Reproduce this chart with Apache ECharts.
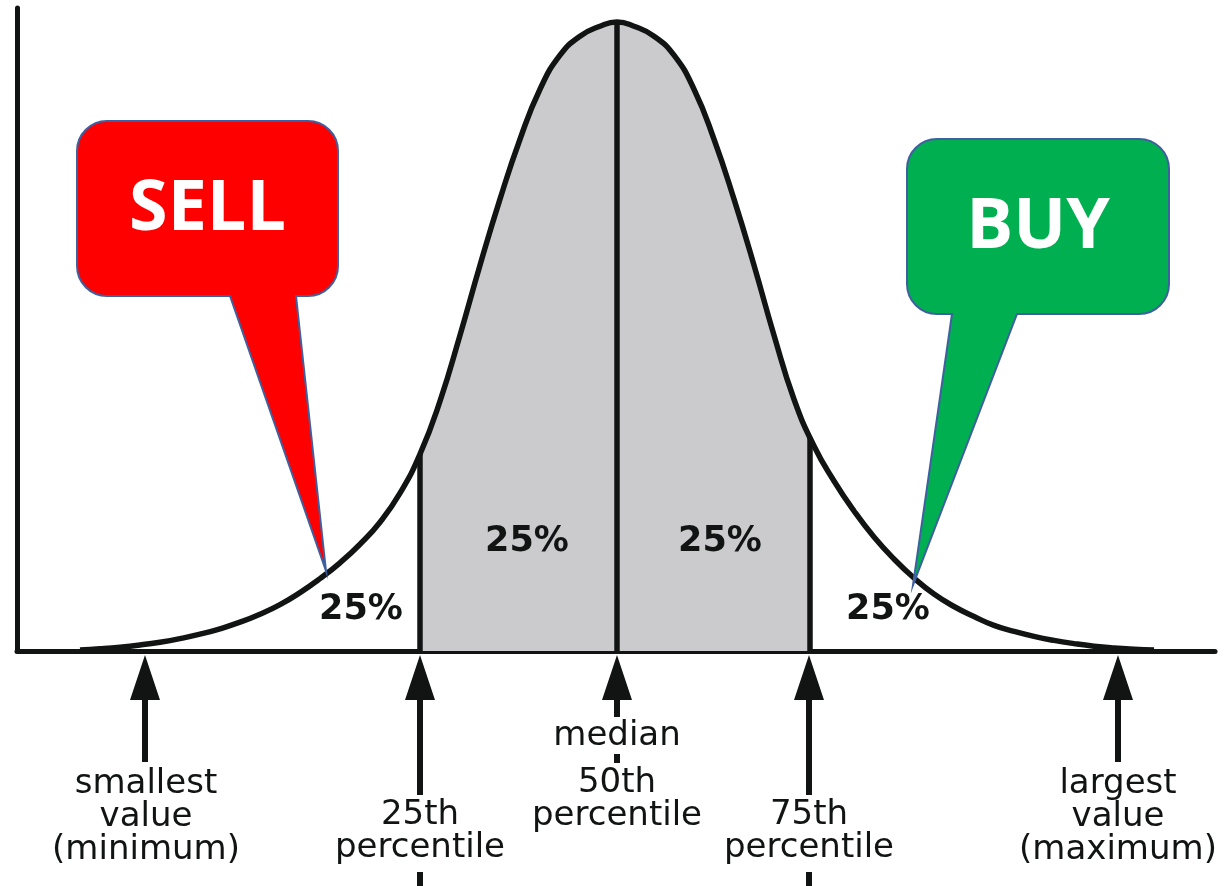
<!DOCTYPE html>
<html><head><meta charset="utf-8">
<script src="https://cdn.jsdelivr.net/npm/echarts@6/dist/echarts.min.js"></script>
<style>html,body{margin:0;padding:0;background:#fff}#c{width:1225px;height:886px}</style>
</head><body><div id="c"></div>
<script>
// Bell curve (x = horizontal position, y = height above the baseline)
const curveX = [80,100,120,140,160,180,200,220,240,260,280,300,320,340,360,380,400,420,440,460,480,500,520,540,560,580,600,617,
                634,654,674,694,714,734,754,774,794,814,834,854,874,894,914,934,954,974,994,1014,1034,1054,1074,1094,1114,1134,1154];
const curveY = [1.0,2.2,3.8,6.0,8.8,12.4,16.8,22.2,28.8,36.8,46.4,58.4,72.4,88.2,106.8,128.8,157.8,196.8,249.8,315.8,385.8,451.8,511.8,561.8,595.8,614.8,624.8,629,
                624.8,614.8,595.8,561.8,511.8,451.8,385.8,315.8,251.8,205,170,140,114,92,73,57,44.5,34.5,25.6,19.6,14.6,10.6,7.4,4.8,3.0,1.8,1.0];

// Quartile dividers (25th, median, 75th)
const quartileX = [420, 617, 810];
const quartileTop = [196.8, 629, 214];

// Share labels inside the curve
const pctText = ['25%', '25%', '25%', '25%'];
const pctX = [361, 527, 720, 888];
const pctY = [41, 109, 109, 41];

// Arrows under the axis
const arrowX = [145, 420, 617, 809, 1118];
const arrowTip = [-4, -4, -4, -4, -4];
const arrowEnd = [-111, -144, -66, -144, -111];
const stubX = [617, 420, 809];
const stubFrom = [-103, -221, -221];
const stubTo = [-112, -235, -235];

// Axis annotations
const labelText = ['smallest\nvalue\n(minimum)', '25th\npercentile', 'median', '50th\npercentile', '75th\npercentile', 'largest\nvalue\n(maximum)'];
const labelX = [146, 420, 617, 617, 809, 1118];
const labelY = [-166, -181, -85, -149, -181, -166];

// Callouts
const calloutText = ['SELL', 'BUY'];
const calloutColor = ['#ff0000', '#00b050'];
const calloutLeft = [77, 907];
const calloutRight = [338, 1169];
const calloutTop = [530, 512];
const calloutBottom = [355, 337];
const tailLeft = [230, 952];
const tailRight = [296, 1017];
const tipX = [326, 913];
const tipY = [80, 66];

const INK = '#121414';
const SMOOTH = 0.5;
const chart = echarts.init(document.getElementById('c'));
const curveData = curveX.map((x, i) => [x, curveY[i]]);
const shadeData = [[quartileX[0], quartileTop[0]]]
  .concat(curveData.filter(d => d[0] > quartileX[0] && d[0] < quartileX[2]))
  .concat([[quartileX[2], quartileTop[2]]]);

function calloutPath(x0, y0, x1, y1, tl, tr, tx, ty, r) {
  const k = 0.5523 * r;
  return 'M' + (x0 + r) + ' ' + y0 +
    ' L' + (x1 - r) + ' ' + y0 +
    ' C' + (x1 - r + k) + ' ' + y0 + ' ' + x1 + ' ' + (y0 + r - k) + ' ' + x1 + ' ' + (y0 + r) +
    ' L' + x1 + ' ' + (y1 - r) +
    ' C' + x1 + ' ' + (y1 - r + k) + ' ' + (x1 - r + k) + ' ' + y1 + ' ' + (x1 - r) + ' ' + y1 +
    ' L' + tr + ' ' + y1 + ' L' + tx + ' ' + ty + ' L' + tl + ' ' + y1 +
    ' L' + (x0 + r) + ' ' + y1 +
    ' C' + (x0 + r - k) + ' ' + y1 + ' ' + x0 + ' ' + (y1 - r + k) + ' ' + x0 + ' ' + (y1 - r) +
    ' L' + x0 + ' ' + (y0 + r) +
    ' C' + x0 + ' ' + (y0 + r - k) + ' ' + (x0 + r - k) + ' ' + y0 + ' ' + (x0 + r) + ' ' + y0 + ' Z';
}

const axisCommon = {
  axisLine: { show: true, onZero: false, lineStyle: { color: INK, width: 5 } },
  axisTick: { show: false }, axisLabel: { show: false }, splitLine: { show: false }
};

chart.setOption({
  animation: false,
  grid: { left: 17, right: 10, top: 8, bottom: 235 },
  xAxis: Object.assign({ type: 'value', min: 17, max: 1215 }, axisCommon),
  yAxis: Object.assign({ type: 'value', min: 0, max: 643 }, axisCommon),
  series: [
    { type: 'line', data: shadeData, smooth: SMOOTH, symbol: 'none', lineStyle: { width: 0 },
      areaStyle: { color: '#cbcbcd', opacity: 1 }, z: 1, silent: true },
    { type: 'custom', z: 2, silent: true,
      data: quartileX.map((x, i) => [x, quartileTop[i]]),
      renderItem: (p, api) => {
        const b = api.coord([api.value(0), 0]);
        const t = api.coord([api.value(0), api.value(1)]);
        return { type: 'line', shape: { x1: b[0], y1: b[1], x2: t[0], y2: t[1] },
          style: { stroke: INK, lineWidth: 5.5 } };
      } },
    { type: 'line', data: curveData, smooth: SMOOTH, symbol: 'none',
      lineStyle: { color: INK, width: 5.5 }, z: 3, silent: true },
    { type: 'custom', z: 3, silent: true,
      data: arrowX.map((x, i) => [x, arrowTip[i], arrowEnd[i]]),
      renderItem: (p, api) => {
        const tip = api.coord([api.value(0), api.value(1)]);
        const end = api.coord([api.value(0), api.value(2)]);
        const hw = 15, hh = 45;
        return { type: 'group', children: [
          { type: 'polygon', shape: { points: [[tip[0], tip[1]], [tip[0] - hw, tip[1] + hh], [tip[0] + hw, tip[1] + hh]] },
            style: { fill: INK } },
          { type: 'rect', shape: { x: tip[0] - 3, y: tip[1] + hh - 2, width: 6, height: end[1] - tip[1] - hh + 2 },
            style: { fill: INK } }
        ] };
      } },
    { type: 'custom', z: 3, silent: true,
      data: stubX.map((x, i) => [x, stubFrom[i], stubTo[i]]),
      renderItem: (p, api) => {
        const a = api.coord([api.value(0), api.value(1)]);
        const b = api.coord([api.value(0), api.value(2)]);
        return { type: 'rect', shape: { x: a[0] - 3, y: a[1], width: 6, height: b[1] - a[1] }, style: { fill: INK } };
      } },
    { type: 'custom', z: 4, silent: true,
      data: labelX.map((x, i) => [x, labelY[i]]),
      renderItem: (p, api) => {
        const pt = api.coord([api.value(0), api.value(1)]);
        return { type: 'text', x: pt[0], y: pt[1],
          style: { text: labelText[p.dataIndex], fill: INK, font: '34px "DejaVu Sans"',
            align: 'center', verticalAlign: 'middle', lineHeight: 33 } };
      } },
    { type: 'custom', z: 4, silent: true,
      data: pctX.map((x, i) => [x, pctY[i]]),
      renderItem: (p, api) => {
        const pt = api.coord([api.value(0), api.value(1)]);
        return { type: 'text', x: pt[0], y: pt[1],
          style: { text: pctText[p.dataIndex], fill: INK, font: 'bold 35px "DejaVu Sans"',
            align: 'center', verticalAlign: 'middle' } };
      } },
    { type: 'custom', z: 10, silent: true,
      data: calloutText.map((t, i) => [calloutLeft[i], calloutTop[i], calloutRight[i], calloutBottom[i], tailLeft[i], tailRight[i], tipX[i], tipY[i]]),
      renderItem: (p, api) => {
        const tl = api.coord([api.value(0), api.value(1)]);
        const br = api.coord([api.value(2), api.value(3)]);
        const tL = api.coord([api.value(4), api.value(3)]);
        const tR = api.coord([api.value(5), api.value(3)]);
        const tip = api.coord([api.value(6), api.value(7)]);
        const d = calloutPath(tl[0], tl[1], br[0], br[1], tL[0], tR[0], tip[0], tip[1], 30);
        return { type: 'group', children: [
          { type: 'path', shape: { pathData: d },
            style: { fill: calloutColor[p.dataIndex], stroke: '#3f60a0', lineWidth: 2 } },
          { type: 'text', x: (tl[0] + br[0]) / 2, y: (tl[1] + br[1]) / 2 + 2,
            style: { text: calloutText[p.dataIndex], fill: '#ffffff', font: 'bold 70px "Open Sans"',
              align: 'center', verticalAlign: 'middle' } }
        ] };
      } }
  ]
});
</script>
</body></html>
